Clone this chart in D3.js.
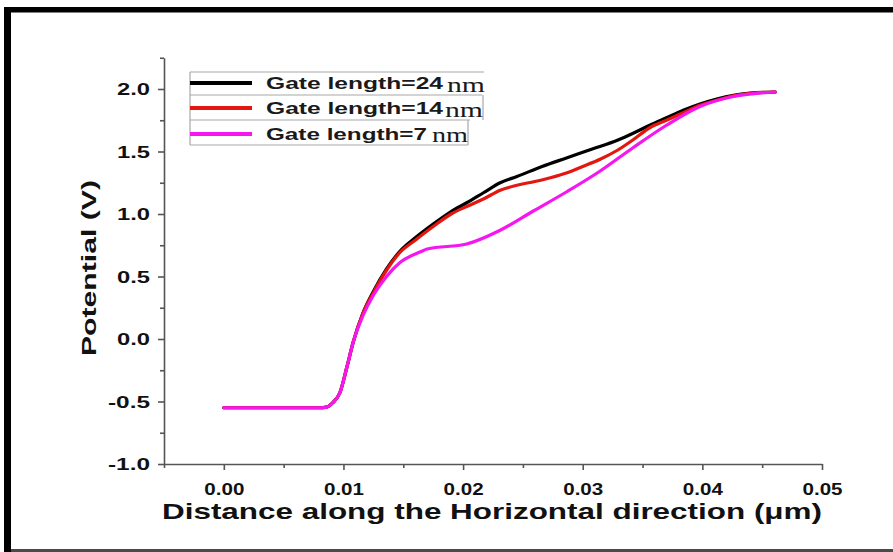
<!DOCTYPE html>
<html>
<head>
<meta charset="utf-8">
<script src="https://cdn.jsdelivr.net/npm/d3@7"></script>
<style>
  html, body { margin: 0; padding: 0; background: #fff; }
  svg { display: block; }
</style>
</head>
<body>
<svg id="chart" width="893" height="552"></svg>
<script>
// Potential profile along the channel for three gate lengths
const distance24 = [0, 0.002, 0.004, 0.006, 0.008, 0.0086, 0.0091, 0.0097, 0.0103, 0.0108, 0.0116, 0.0125, 0.0136, 0.0147, 0.016, 0.0175, 0.019, 0.0203, 0.0217, 0.0231, 0.0245, 0.0266, 0.0287, 0.0308, 0.0329, 0.0343, 0.0356, 0.037, 0.0384, 0.0398, 0.0412, 0.0426, 0.044, 0.0461];
const potential24 = [-0.55, -0.55, -0.55, -0.55, -0.55, -0.545, -0.51, -0.43, -0.22, -0.03, 0.2, 0.38, 0.56, 0.7, 0.81, 0.92, 1.02, 1.09, 1.17, 1.25, 1.3, 1.38, 1.45, 1.52, 1.59, 1.65, 1.71, 1.77, 1.83, 1.88, 1.92, 1.95, 1.967, 1.976];

const distance14 = [0, 0.002, 0.004, 0.006, 0.008, 0.0086, 0.0091, 0.0097, 0.0103, 0.0108, 0.0116, 0.0125, 0.0136, 0.0147, 0.016, 0.0175, 0.019, 0.0203, 0.0217, 0.0231, 0.0245, 0.026, 0.0273, 0.0287, 0.03, 0.0315, 0.0329, 0.0343, 0.0356, 0.037, 0.0384, 0.0398, 0.0412, 0.0426, 0.044, 0.0461];
const potential14 = [-0.55, -0.55, -0.55, -0.55, -0.55, -0.545, -0.51, -0.43, -0.22, -0.03, 0.2, 0.37, 0.55, 0.69, 0.79, 0.9, 1.0, 1.06, 1.12, 1.19, 1.23, 1.26, 1.29, 1.33, 1.38, 1.44, 1.51, 1.6, 1.69, 1.75, 1.81, 1.87, 1.91, 1.945, 1.965, 1.976];

const distance7 = [0, 0.002, 0.004, 0.006, 0.008, 0.0086, 0.0091, 0.0097, 0.0103, 0.0108, 0.0116, 0.0125, 0.0136, 0.0147, 0.0165, 0.017, 0.0203, 0.0231, 0.0258, 0.0287, 0.0314, 0.0342, 0.037, 0.0398, 0.0426, 0.0445, 0.0461];
const potential7 = [-0.55, -0.55, -0.55, -0.55, -0.55, -0.545, -0.51, -0.43, -0.22, -0.03, 0.18, 0.35, 0.5, 0.61, 0.7, 0.72, 0.76, 0.87, 1.02, 1.18, 1.34, 1.53, 1.71, 1.86, 1.94, 1.965, 1.976];

const seriesNames = ["Gate length=24", "Gate length=14", "Gate length=7"];
const seriesColors = ["#000000", "#e3170f", "#f516f0"];

const xTicks = [0, 0.01, 0.02, 0.03, 0.04, 0.05];
const xMinorTicks = [-0.005, 0.005, 0.015, 0.025, 0.035, 0.045];
const yTicks = [-1.0, -0.5, 0.0, 0.5, 1.0, 1.5, 2.0];
const yMinorTicks = [-0.75, -0.25, 0.25, 0.75, 1.25, 1.75, 2.25];

const xTitle = "Distance along the Horizontal direction (\u03bcm)";
const yTitle = "Potential (V)";

const svg = d3.select("#chart");
const W = 893, H = 552;

// page frame
svg.append("rect").attr("x", 0).attr("y", 0).attr("width", W).attr("height", H).attr("fill", "#fff");
svg.append("rect").attr("x", 4).attr("y", 7).attr("width", W - 4).attr("height", 5.5).attr("fill", "#000");
svg.append("rect").attr("x", 4).attr("y", 7).attr("width", 7).attr("height", H - 7).attr("fill", "#000");
svg.append("rect").attr("x", 11).attr("y", 549).attr("width", W - 11).attr("height", 3).attr("fill", "#4a4a4a");

const x = d3.scaleLinear().domain([-0.005, 0.05]).range([164, 822]);
const y = d3.scaleLinear().domain([-1, 2.25]).range([464, 57.75]);

const axisColor = "#555";
const tickFont = "'Liberation Sans', Arial, sans-serif";
// plain hyphen for negative numbers
const fmt = spec => { const f = d3.format(spec); return d => f(d).replace("\u2212", "-"); };

// x axis
const gx = svg.append("g").attr("transform", `translate(0,${y(-1)})`);
gx.call(d3.axisBottom(x).tickValues(xTicks).tickSize(6).tickSizeOuter(0).tickPadding(14)
  .tickFormat(fmt(".2f")));
gx.append("g").call(d3.axisBottom(x).tickValues(xMinorTicks).tickSize(4).tickSizeOuter(0).tickFormat(""))
  .select(".domain").remove();

// y axis
const gy = svg.append("g").attr("transform", `translate(${x(-0.005)},0)`);
gy.call(d3.axisLeft(y).tickValues(yTicks).tickSize(6).tickSizeOuter(0).tickPadding(8)
  .tickFormat(fmt(".1f")));
gy.append("g").call(d3.axisLeft(y).tickValues(yMinorTicks).tickSize(4).tickSizeOuter(0).tickFormat(""))
  .select(".domain").remove();

[gx, gy].forEach(g => {
  g.selectAll(".domain").attr("stroke", axisColor).attr("stroke-width", 1.6);
  g.selectAll(".tick line").attr("stroke", axisColor).attr("stroke-width", 1.6);
});
gx.selectAll(".tick text")
  .attr("fill", "#111").attr("font-family", tickFont).attr("font-weight", "bold").attr("font-size", 16)
  .attr("textLength", 40).attr("lengthAdjust", "spacingAndGlyphs");
gy.selectAll(".tick text")
  .attr("fill", "#111").attr("font-family", tickFont).attr("font-weight", "bold").attr("font-size", 16)
  .attr("textLength", d => d < 0 ? 42 : 33).attr("lengthAdjust", "spacingAndGlyphs")
  .attr("dy", "0.36em");

// axis titles
svg.append("text")
  .attr("x", 492).attr("y", 519).attr("text-anchor", "middle")
  .attr("font-family", tickFont).attr("font-weight", "bold").attr("font-size", 22).attr("fill", "#111")
  .attr("textLength", 660).attr("lengthAdjust", "spacingAndGlyphs")
  .text(xTitle);
svg.append("text")
  .attr("transform", `translate(96,268) rotate(-90)`).attr("text-anchor", "middle")
  .attr("font-family", tickFont).attr("font-weight", "bold").attr("font-size", 21).attr("fill", "#111")
  .attr("textLength", 176).attr("lengthAdjust", "spacingAndGlyphs")
  .text(yTitle);

// curves
const line = d3.line().x(d => x(d[0])).y(d => y(d[1])).curve(d3.curveMonotoneX);
const series = [
  d3.zip(distance24, potential24),
  d3.zip(distance14, potential14),
  d3.zip(distance7, potential7)
];
series.forEach((pts, i) => {
  svg.append("path").datum(pts)
    .attr("d", line)
    .attr("fill", "none")
    .attr("stroke", seriesColors[i])
    .attr("stroke-width", 3.2)
    .attr("stroke-linejoin", "round")
    .attr("stroke-linecap", "round");
});

// legend
const lg = svg.append("g");
const boxStroke = "#a8a8a8";
const legendRows = [
  { base: 89, nmBase: 92, textW: 177, nmX: 447, nmW: 38 },
  { base: 114, nmBase: 117, textW: 177, nmX: 445, nmW: 38 },
  { base: 140, nmBase: 142, textW: 161, nmX: 432, nmW: 36 }
];
const hl = (x1, x2, yy) => lg.append("line").attr("x1", x1).attr("x2", x2).attr("y1", yy).attr("y2", yy)
  .attr("stroke", boxStroke).attr("stroke-width", 1.2);
const vl = (xx, y1, y2) => lg.append("line").attr("x1", xx).attr("x2", xx).attr("y1", y1).attr("y2", y2)
  .attr("stroke", boxStroke).attr("stroke-width", 1.2);
hl(190, 484, 72);
hl(190, 482, 95);
hl(190, 470, 120);
hl(190, 468, 145);
vl(190, 72, 145);
vl(483, 95, 120);
vl(468, 120, 145);

seriesNames.forEach((name, i) => {
  const r = legendRows[i];
  const ly = r.base - 6;
  lg.append("line").attr("x1", 190).attr("x2", 252).attr("y1", ly).attr("y2", ly)
    .attr("stroke", seriesColors[i]).attr("stroke-width", 3.8);
  lg.append("text").attr("x", 266).attr("y", r.base)
    .attr("font-family", tickFont).attr("font-weight", "bold").attr("font-size", 17).attr("fill", "#1a1a1a")
    .attr("textLength", r.textW).attr("lengthAdjust", "spacingAndGlyphs")
    .text(name);
  lg.append("text").attr("x", r.nmX).attr("y", r.nmBase)
    .attr("font-family", "'Liberation Serif', 'Times New Roman', serif").attr("font-size", 22).attr("fill", "#1a1a1a")
    .attr("textLength", r.nmW).attr("lengthAdjust", "spacingAndGlyphs")
    .text("nm");
});
</script>
</body>
</html>
